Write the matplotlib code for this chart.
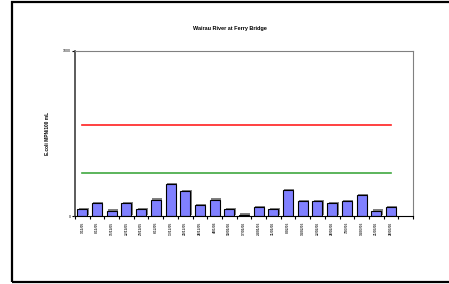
import numpy as np
import matplotlib
matplotlib.use("Agg")
import matplotlib.pyplot as plt
import matplotlib.patheffects as pe
from matplotlib.patches import Rectangle

plt.rcParams['font.family'] = ['Liberation Sans', 'DejaVu Sans']

dates = ["1/11/05", "8/11/05", "15/11/05", "22/11/05", "29/11/05", "6/12/05",
         "13/12/05", "20/12/05", "28/12/05", "4/01/06", "10/01/06", "17/01/06",
         "24/01/06", "31/01/06", "8/02/06", "14/02/06", "22/02/06", "28/02/06",
         "7/03/06", "14/03/06", "21/03/06", "28/03/06"]
ecoli = [42, 77, 32, 77, 40, 100, 194, 151, 65, 100, 40, 8,
         52, 42, 155, 89, 89, 77, 89, 125, 32, 52]
alert_level = 260
action_level = 550

fig = plt.figure(figsize=(4.49, 2.84), dpi=100)
# outer frame, right side runs off the picture
fig.patches.append(Rectangle((11.5 / 449, 2 / 284), 2.0, 280 / 284,
                             transform=fig.transFigure, fill=False,
                             edgecolor='black', linewidth=1.6))

ax = fig.add_axes([75 / 449, 68 / 284, 338 / 449, 165 / 284])
x = np.arange(len(dates))

ax.bar(x, ecoli, width=0.68, color='#8080ff', edgecolor='black', linewidth=0.8,
       path_effects=[pe.SimplePatchShadow(offset=(1, 1), shadow_rgbFace='#808080', alpha=1.0),
                     pe.Normal()])
ax.plot(x, [action_level] * len(x), color='#ff2020', linewidth=1.2)
ax.plot(x, [alert_level] * len(x), color='#40a840', linewidth=1.2)

ax.set_xlim(-0.5, len(dates) + 0.5)
ax.set_ylim(0, 1000)
ax.set_yticks([0, 1000])
ax.set_yticklabels(["0", "1000"], fontsize=2.6)
ax.set_xticks(x)
ax.set_xticklabels(dates, rotation=90, fontsize=2.4, fontweight='bold', color='#333333')
ax.set_xticks(np.arange(-0.5, len(dates) + 1, 1), minor=True)
ax.tick_params(axis='x', which='major', length=0, pad=4)
ax.tick_params(axis='x', which='minor', length=2, width=0.8, direction='out')
ax.tick_params(axis='y', length=2, width=0.8, pad=1)

ax.spines['left'].set_color('#404040')
ax.spines['left'].set_linewidth(1.2)
ax.spines['bottom'].set_color('black')
ax.spines['bottom'].set_linewidth(0.8)
ax.spines['top'].set_color('#808080')
ax.spines['right'].set_color('#808080')

ax.set_ylabel("E.coli MPN/100 mL", fontsize=3.4, fontweight='bold', labelpad=9)
fig.text(0.512, 0.900, "Wairau River at Ferry Bridge", ha='center', va='center',
         fontsize=4, fontweight='bold')

fig.savefig("out.png", dpi=100)
